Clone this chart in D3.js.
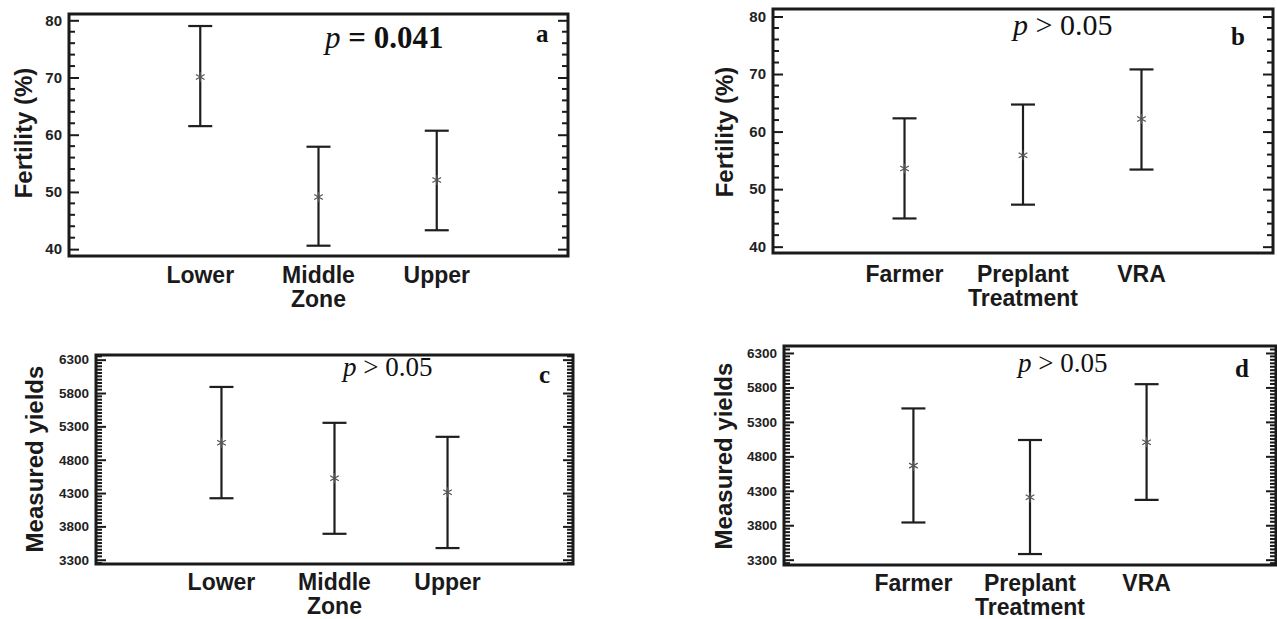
<!DOCTYPE html>
<html>
<head>
<meta charset="utf-8">
<script src="https://cdn.jsdelivr.net/npm/d3@7"></script>
<style>
  body { margin: 0; background: #fff; }
  svg { display: block; }
  .tick text { font-family: "Liberation Sans", Arial, sans-serif; font-weight: bold; fill: #222; }
  .tick line { stroke: #1a1a1a; stroke-width: 2; }
  .lab { font-family: "Liberation Sans", Arial, sans-serif; font-weight: bold; fill: #1a1a1a; }
  .ser { font-family: "Liberation Serif", "Times New Roman", serif; fill: #111; white-space: pre; }
</style>
</head>
<body>
<svg id="chart" width="1277" height="619"></svg>
<script>
// categories
var zoneCats = [['Lower'], ['Middle', 'Zone'], ['Upper']];
var treatCats = [['Farmer'], ['Preplant', 'Treatment'], ['VRA']];

// fertility (%) by zone (panel a)
var fertZoneMean = [70.1, 49.1, 52.1];
var fertZoneLow = [61.5, 40.6, 43.3];
var fertZoneHigh = [79.0, 57.9, 60.7];

// fertility (%) by treatment (panel b)
var fertTreatMean = [53.6, 55.9, 62.2];
var fertTreatLow = [44.9, 47.3, 53.4];
var fertTreatHigh = [62.3, 64.7, 70.8];

// measured yields by zone (panel c)
var yieldZoneMean = [5054, 4521, 4312];
var yieldZoneLow = [4222, 3689, 3475];
var yieldZoneHigh = [5891, 5353, 5143];

// measured yields by treatment (panel d)
var yieldTreatMean = [4665, 4207, 5003];
var yieldTreatLow = [3840, 3382, 4168];
var yieldTreatHigh = [5495, 5037, 5847];

// tick labels
var fertTicks = [40, 50, 60, 70, 80];
var yieldTicks = [3300, 3800, 4300, 4800, 5300, 5800, 6300];

var svg = d3.select('#chart');

var panels = [
  { letter: 'a', cats: zoneCats, mean: fertZoneMean, lo: fertZoneLow, hi: fertZoneHigh,
    ticks: fertTicks, minorStep: 2, domain: [38.8, 81.1], yLabel: 'Fertility (%)',
    left: 69, top: 14, right: 568, bottom: 256, tickFont: 15, catY: 283,
    yLabX: 32, yLabY: 133, pX: 325, pY: 48, pSize: 31, pRest: ' = 0.041', pBold: true,
    letX: 536, letY: 42 },
  { letter: 'b', cats: treatCats, mean: fertTreatMean, lo: fertTreatLow, hi: fertTreatHigh,
    ticks: fertTicks, minorStep: 2, domain: [38.9, 81.3], yLabel: 'Fertility (%)',
    left: 773, top: 9, right: 1273, bottom: 253, tickFont: 15, catY: 282,
    yLabX: 733, yLabY: 132, pX: 1013, pY: 35, pSize: 30, pRest: ' > 0.05', pBold: false,
    letX: 1231, letY: 45 },
  { letter: 'c', cats: zoneCats, mean: yieldZoneMean, lo: yieldZoneLow, hi: yieldZoneHigh,
    ticks: yieldTicks, minorStep: 50, domain: [3236, 6370], yLabel: 'Measured yields',
    left: 96, top: 355, right: 573, bottom: 564, tickFont: 13.5, catY: 590,
    yLabX: 42.5, yLabY: 459, pX: 343, pY: 376, pSize: 27, pRest: ' > 0.05', pBold: false,
    letX: 539, letY: 383 },
  { letter: 'd', cats: treatCats, mean: yieldTreatMean, lo: yieldTreatLow, hi: yieldTreatHigh,
    ticks: yieldTicks, minorStep: 50, domain: [3223, 6401], yLabel: 'Measured yields',
    left: 784, top: 346, right: 1276, bottom: 565, tickFont: 13.5, catY: 591,
    yLabX: 732, yLabY: 456, pX: 1018, pY: 372, pSize: 27, pRest: ' > 0.05', pBold: false,
    letX: 1235, letY: 377 }
];

panels.forEach(drawPanel);

function drawPanel(p) {
  var g = svg.append('g');
  var n = p.cats.length;

  var y = d3.scaleLinear().domain(p.domain).range([p.bottom, p.top]);
  var x = d3.scalePoint().domain(d3.range(n)).range([p.left, p.right]).padding(1.11);

  var minor = d3.range(Math.ceil(p.domain[0] / p.minorStep) * p.minorStep, p.domain[1], p.minorStep)
    .filter(function(v) { return p.ticks.indexOf(v) < 0; });

  // left axis, ticks pointing inward
  g.append('g')
    .attr('transform', 'translate(' + p.left + ',0)')
    .call(d3.axisLeft(y).tickValues(p.ticks).tickSizeInner(-10).tickSizeOuter(0).tickPadding(7).tickFormat(d3.format('d')))
    .call(function(a) { a.select('.domain').remove(); a.selectAll('text').style('font-size', p.tickFont + 'px'); });

  // mirrored major ticks on the right
  g.append('g')
    .attr('transform', 'translate(' + p.right + ',0)')
    .call(d3.axisRight(y).tickValues(p.ticks).tickSizeInner(-10).tickSizeOuter(0).tickFormat(''))
    .call(function(a) { a.select('.domain').remove(); });

  // minor ticks on both sides
  var mg = g.append('g').attr('stroke', '#1a1a1a').attr('stroke-width', 2);
  mg.selectAll('.ml').data(minor).enter().append('line')
    .attr('x1', p.left).attr('x2', p.left + 6)
    .attr('y1', function(v) { return y(v); })
    .attr('y2', function(v) { return y(v); });
  mg.selectAll('.mr').data(minor).enter().append('line')
    .attr('x1', p.right - 6).attr('x2', p.right)
    .attr('y1', function(v) { return y(v); })
    .attr('y2', function(v) { return y(v); });

  // frame
  g.append('rect')
    .attr('x', p.left).attr('y', p.top)
    .attr('width', p.right - p.left).attr('height', p.bottom - p.top)
    .attr('fill', 'none').attr('stroke', '#1a1a1a').attr('stroke-width', 3);

  // error bars
  var idx = d3.range(n);
  var bars = g.append('g').attr('stroke', '#1e1e1e').attr('stroke-width', 2.2);
  bars.selectAll('.v').data(idx).enter().append('line')
    .attr('x1', function(i) { return x(i); }).attr('x2', function(i) { return x(i); })
    .attr('y1', function(i) { return y(p.hi[i]); }).attr('y2', function(i) { return y(p.lo[i]); });
  bars.selectAll('.t').data(idx).enter().append('line')
    .attr('x1', function(i) { return x(i) - 12; }).attr('x2', function(i) { return x(i) + 12; })
    .attr('y1', function(i) { return y(p.hi[i]); }).attr('y2', function(i) { return y(p.hi[i]); });
  bars.selectAll('.b').data(idx).enter().append('line')
    .attr('x1', function(i) { return x(i) - 12; }).attr('x2', function(i) { return x(i) + 12; })
    .attr('y1', function(i) { return y(p.lo[i]); }).attr('y2', function(i) { return y(p.lo[i]); });

  // means
  g.selectAll('.m').data(idx).enter().append('path')
    .attr('d', d3.symbol(d3.symbolAsterisk, 70))
    .attr('transform', function(i) { return 'translate(' + x(i) + ',' + y(p.mean[i]) + ')'; })
    .attr('fill', 'none').attr('stroke', '#555').attr('stroke-width', 1.2);

  // category labels
  var cl = g.selectAll('.cat').data(idx).enter().append('text')
    .attr('class', 'lab').attr('text-anchor', 'middle').style('font-size', '23px')
    .attr('x', function(i) { return x(i); })
    .attr('y', p.catY);
  cl.each(function(i) {
    var t = d3.select(this);
    p.cats[i].forEach(function(line, k) {
      t.append('tspan').attr('x', x(i)).attr('dy', k === 0 ? 0 : 24).text(line);
    });
  });

  // y label
  g.append('text').attr('class', 'lab').attr('text-anchor', 'middle').style('font-size', '24px')
    .attr('transform', 'translate(' + p.yLabX + ',' + p.yLabY + ') rotate(-90)')
    .text(p.yLabel);

  // p value
  var pt = g.append('text').attr('class', 'ser').attr('x', p.pX).attr('y', p.pY)
    .style('font-size', p.pSize + 'px');
  pt.append('tspan').style('font-style', 'italic').text('p');
  pt.append('tspan').style('font-weight', p.pBold ? 'bold' : 'normal').text(p.pRest);

  // panel letter
  g.append('text').attr('class', 'ser').attr('x', p.letX).attr('y', p.letY)
    .style('font-size', '25px').style('font-weight', 'bold').text(p.letter);
}
</script>
</body>
</html>
